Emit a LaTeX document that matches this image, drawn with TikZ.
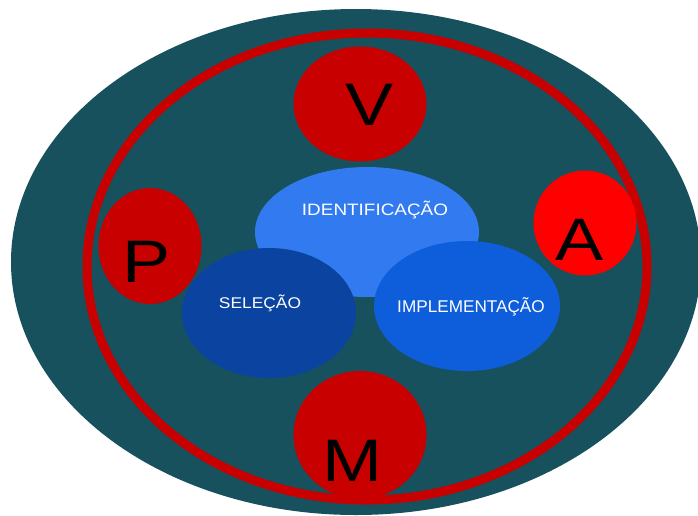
\documentclass[tikz,border=0pt]{standalone}
\usepackage{fontspec}
\usepackage{graphicx}
\usetikzlibrary{shapes.geometric}
\setmainfont{Liberation Sans}
\definecolor{teal0}{RGB}{23,81,94}
\definecolor{ringred}{RGB}{200,0,0}
\definecolor{brightred}{RGB}{255,0,0}
\definecolor{identblue}{RGB}{49,122,240}
\definecolor{selblue}{RGB}{11,68,160}
\definecolor{implblue}{RGB}{14,94,220}
\tikzset{
  blob/.style={ellipse, draw=none, inner sep=0pt, outer sep=0pt},
  bigletter/.style={inner sep=0pt, outer sep=0pt, text=black, font=\fontsize{60}{60}\selectfont},
  smalltext/.style={inner sep=0pt, outer sep=0pt, anchor=base, text=white},
}
\begin{document}
\begin{tikzpicture}[x=1pt,y=-1pt]
\useasboundingbox (0,0) rectangle (698,515);
\clip (0,0) rectangle (698,515);
\fill[white] (0,0) rectangle (698,515);
% outer ellipse
\node[blob, fill=teal0, minimum width=690pt, minimum height=506pt] (outer) at (356,262) {};
% ring
\node[ellipse, draw=ringred, line width=9pt, inner sep=0pt, outer sep=0pt, minimum width=560pt, minimum height=467pt] (ring) at (367,266.5) {};
% red circles
\node[blob, fill=ringred, minimum width=133pt, minimum height=115pt] (vc) at (360,104) {};
\node[blob, fill=ringred, minimum width=103pt, minimum height=116pt] (pc) at (150,246) {};
\node[blob, fill=brightred, minimum width=103pt, minimum height=105pt] (ac) at (585,223) {};
\node[blob, fill=ringred, minimum width=133pt, minimum height=128pt] (mc) at (360,435) {};
% blue ellipses
\node[blob, fill=identblue, minimum width=224pt, minimum height=130pt] (ident) at (367,232) {};
\node[blob, fill=selblue, minimum width=174pt, minimum height=130pt] (sel) at (269,313) {};
\node[blob, fill=implblue, minimum width=186pt, minimum height=130pt] (impl) at (467,306) {};
% big letters
\node[bigletter] (vl) at (370,104.5) {\scalebox{1.2}[1]{V}};
\node[bigletter] (pl) at (147,262) {\scalebox{1.2}[1]{P}};
\node[bigletter] (al) at (580,240) {\scalebox{1.2}[1]{A}};
\node[bigletter] (ml) at (352,460.5) {\scalebox{1.2}[1]{M}};
% labels
\node[smalltext, font=\fontsize{16.5}{16.5}\selectfont] (identl) at (375,215) {\scalebox{1.146}[1]{IDENTIFICAÇÃO}};
\node[smalltext, font=\fontsize{15.5}{15.5}\selectfont] (sell) at (260,308) {\scalebox{1.12}[1]{SELEÇÃO}};
\node[smalltext, font=\fontsize{17}{17}\selectfont] (impll) at (471,312) {\scalebox{1.01}[1]{IMPLEMENTAÇÃO}};
\end{tikzpicture}
\end{document}
